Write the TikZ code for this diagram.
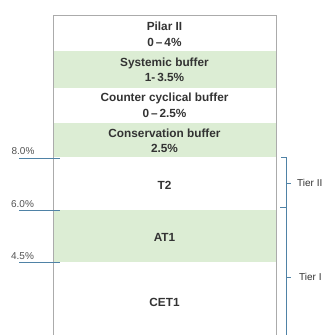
\documentclass[tikz,border=0pt]{standalone}
\usepackage{fontspec}
\setmainfont{Liberation Sans}
\usetikzlibrary{calc}

\definecolor{bandgreen}{HTML}{DCEDD4}
\definecolor{levelblue}{HTML}{4F82A6}
\definecolor{framegray}{HTML}{ABABAB}
\definecolor{inkgray}{HTML}{333333}

\tikzset{
  band/.style={inner sep=0pt, align=center, text=inkgray,
    font=\bfseries\fontsize{11.8}{15.5}\selectfont},
  level/.style={inner sep=0pt, text=inkgray!85,
    font=\fontsize{10}{11}\selectfont},
  tier/.style={anchor=west, inner sep=0pt, text=inkgray,
    font=\fontsize{10}{11}\selectfont},
}

\begin{document}
\begin{tikzpicture}[x=1pt,y=-1pt]
  \useasboundingbox (0,0) rectangle (327,335);

  % green bands
  \fill[bandgreen] (53,51) rectangle (276,88);
  \fill[bandgreen] (53,123) rectangle (276,157);
  \fill[bandgreen] (53,210) rectangle (276,262);

  % frame, open at the bottom
  \draw[framegray] (53,335) -- (53,15) -- (276,15) -- (276,335);

  % band texts
  \node[band] (pilar)   at (164.5,34.5)  {Pilar II\\0\,--\,4\%};
  \node[band] (systemic) at (164.5,70)   {Systemic buffer\\1-\,3.5\%};
  \node[band] (counter) at (164.5,105.5) {Counter cyclical buffer\\0\,--\,2.5\%};
  \node[band] (conserv) at (164.5,141)   {Conservation buffer\\2.5\%};
  \node[band] (ttwo)    at (164.5,185)   {T2};
  \node[band] (atone)   at (164.5,237)   {AT1};
  \node[band] (cetone)  at (164.5,302)   {CET1};

  % capital levels
  \coordinate (eightA) at (19,158);  \coordinate (eightB) at (60,158);
  \coordinate (sixA)   at (19,210);  \coordinate (sixB)   at (60,210);
  \coordinate (fourA)  at (19,262);  \coordinate (fourB)  at (60,262);
  \draw[levelblue] (eightA) -- (eightB);
  \draw[levelblue] (sixA) -- (sixB);
  \draw[levelblue] (fourA) -- (fourB);
  \node[level] (eight) at (23,151) {8.0\%};
  \node[level] (six)   at (22.5,204) {6.0\%};
  \node[level] (four)  at (22.5,256) {4.5\%};

  % tier brackets
  \coordinate (brtop) at (286,157);
  \coordinate (brmid) at (286,207);
  \coordinate (brbot) at (286,335);
  \draw[levelblue] ($(brtop)+(-5,0)$) -- (brtop) -- (brbot);
  \draw[levelblue] ($(brmid)+(-6,0)$) -- (brmid);
  \draw[levelblue] (286,183) -- (291,183);
  \draw[levelblue] (286,277) -- (291,277);
  \node[tier] (tiertwo) at (297,183) {Tier II};
  \node[tier] (tierone) at (299,277) {Tier I};
\end{tikzpicture}
\end{document}
